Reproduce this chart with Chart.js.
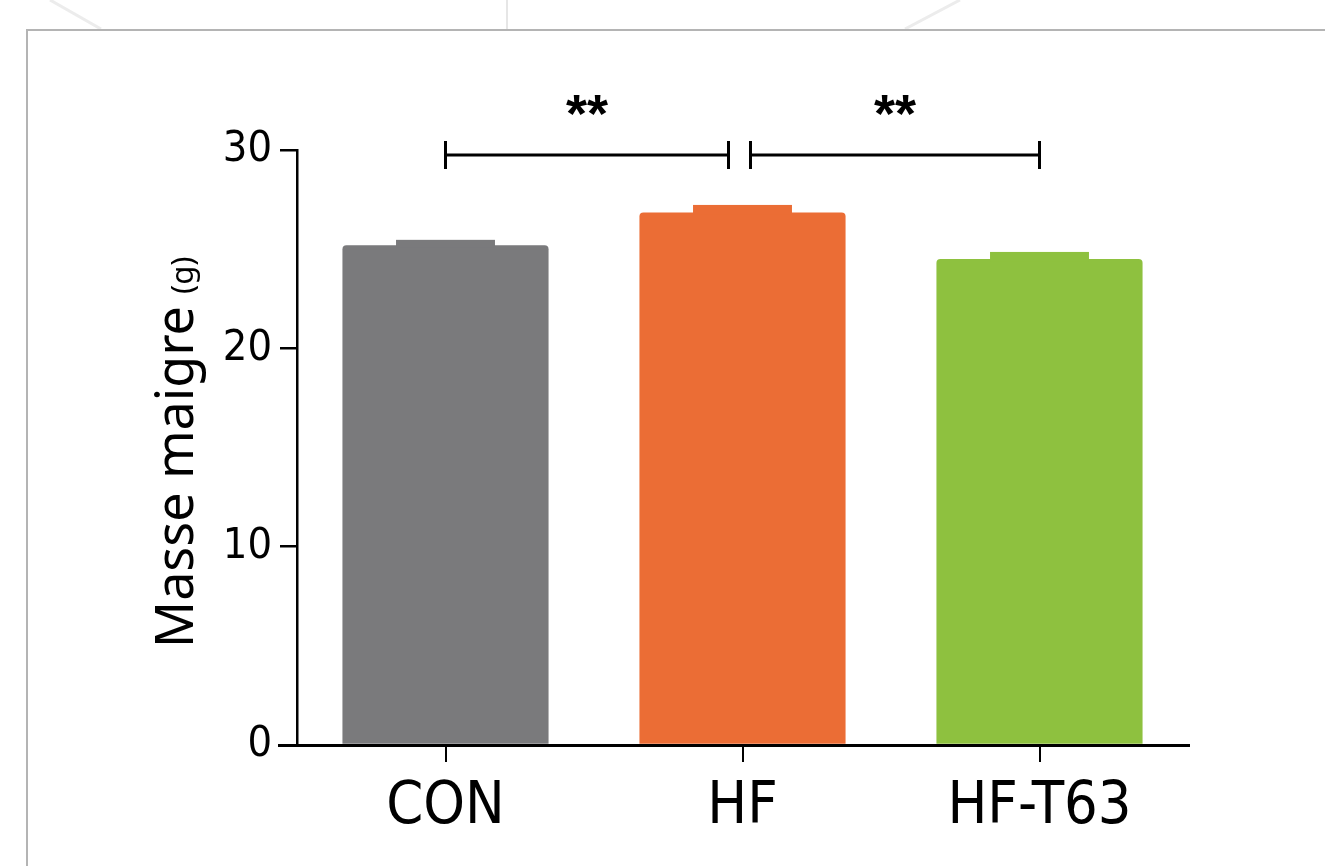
<!DOCTYPE html>
<html>
<head>
<meta charset="utf-8">
<script src="https://cdn.jsdelivr.net/npm/chart.js@4"></script>
<style>
  html, body { margin: 0; padding: 0; background: #fff; }
  #wrap { position: relative; width: 1325px; height: 866px; overflow: hidden; }
  #frame { position: absolute; left: 26px; top: 29px; width: 1310px; height: 850px;
           border-left: 2px solid #b4b4b4; border-top: 2px solid #b4b4b4; }
  #bg { position: absolute; left: 0; top: 0; }
  canvas#c { position: absolute; left: 0; top: 0; }
</style>
</head>
<body>
<div id="wrap">
  <svg id="bg" width="1325" height="30">
    <line x1="50" y1="0" x2="101" y2="29" stroke="#ececec" stroke-width="3"/>
    <line x1="507" y1="0" x2="507" y2="29" stroke="#e6e6e6" stroke-width="2"/>
    <line x1="960" y1="0" x2="905" y2="29" stroke="#ececec" stroke-width="3"/>
  </svg>
  <div id="frame"></div>
  <canvas id="c" width="1325" height="866"></canvas>
</div>
<script>
const categories = ["CON", "HF", "HF-T63"];
const means = [25.2, 26.85, 24.5];
const sems = [0.27, 0.38, 0.36];
const barColors = ["#7a7a7c", "#eb6d35", "#8ec13f"];
const yTicks = [0, 10, 20, 30];
const comparisons = [
  { from: 0, to: 1, label: "**", y: 29.75 },
  { from: 1, to: 2, label: "**", y: 29.75 }
];

const FONT_NARROW = "'Liberation Sans Narrow', 'DejaVu Sans Condensed', 'Liberation Sans', sans-serif";
const FONT_TITLE = "'Noto Sans', 'Open Sans', 'Liberation Sans', sans-serif";

const extras = {
  id: 'extras',
  afterDatasetsDraw(chart) {
    const ctx = chart.ctx;
    const meta = chart.getDatasetMeta(0);
    const y = chart.scales.y;
    meta.data.forEach((bar, i) => {
      const w = bar.width * 0.48;
      const top = y.getPixelForValue(means[i] + sems[i]);
      const bot = y.getPixelForValue(means[i]);
      ctx.save();
      ctx.fillStyle = barColors[i];
      ctx.fillRect(bar.x - w / 2, top, w, bot - top + 2);
      ctx.restore();
    });
  },
  afterDraw(chart) {
    const ctx = chart.ctx;
    const y = chart.scales.y;
    const x = chart.scales.x;
    const area = chart.chartArea;
    ctx.save();
    ctx.strokeStyle = '#000';
    ctx.lineWidth = 3;
    ctx.beginPath();
    ctx.moveTo(area.left - 19, area.bottom + 0.5);
    ctx.lineTo(area.right + 2, area.bottom + 0.5);
    ctx.stroke();
    comparisons.forEach((c, k) => {
      let x1 = x.getPixelForValue(c.from);
      let x2 = x.getPixelForValue(c.to);
      if (k === 0) x2 -= 14; else x1 += 8;
      const py = y.getPixelForValue(c.y);
      ctx.lineWidth = 3;
      ctx.strokeStyle = '#000';
      ctx.beginPath();
      ctx.moveTo(x1, py); ctx.lineTo(x2, py);
      ctx.moveTo(x1, py - 14); ctx.lineTo(x1, py + 14);
      ctx.moveTo(x2, py - 14); ctx.lineTo(x2, py + 14);
      ctx.stroke();
      ctx.fillStyle = '#000';
      ctx.font = "bold 54px 'Liberation Sans', sans-serif";
      ctx.textAlign = 'center';
      ctx.textBaseline = 'alphabetic';
      ctx.fillText(c.label, (x1 + x2) / 2, py - 23);
    });
    ctx.save();
    ctx.translate(193, 648);
    ctx.rotate(-Math.PI / 2);
    ctx.fillStyle = '#000';
    ctx.textAlign = 'left';
    ctx.textBaseline = 'alphabetic';
    ctx.font = "52px " + FONT_TITLE;
    const t = "Masse maigre";
    ctx.fillText(t, 0, 0);
    const w = ctx.measureText(t).width;
    ctx.font = "31px " + FONT_TITLE;
    ctx.fillText("(g)", w + 12, 0);
    ctx.restore();
    ctx.restore();
  }
};

new Chart(document.getElementById('c'), {
  type: 'bar',
  data: {
    labels: categories,
    datasets: [{
      data: means,
      backgroundColor: barColors,
      borderWidth: 0,
      borderRadius: { topLeft: 4, topRight: 4, bottomLeft: 0, bottomRight: 0 },
      borderSkipped: 'bottom',
      categoryPercentage: 1.0,
      barPercentage: 0.694
    }]
  },
  options: {
    responsive: false,
    animation: false,
    events: [],
    layout: { padding: { left: 0, right: 137, top: 150, bottom: 0 } },
    plugins: { legend: { display: false }, tooltip: { enabled: false } },
    scales: {
      x: {
        afterFit(s) { s.height = 121; },
        grid: { display: true, offset: false, drawOnChartArea: false, drawTicks: true, tickLength: 17, color: '#000', lineWidth: 2 },
        border: { display: true, color: '#000', width: 3 },
        ticks: { color: '#000', padding: 10, font: { family: FONT_NARROW, size: 59 } }
      },
      y: {
        min: 0, max: 30,
        afterFit(s) { s.width = 297; },
        afterBuildTicks(s) { s.ticks = yTicks.map(v => ({ value: v })); },
        grid: { display: true, drawOnChartArea: false, drawTicks: true, tickLength: 17, color: '#000', lineWidth: 2.5 },
        border: { display: true, color: '#000', width: 2.5 },
        ticks: { color: '#000', padding: 8, font: { family: FONT_NARROW, size: 43 } }
      }
    }
  },
  plugins: [extras]
});
</script>
</body>
</html>
